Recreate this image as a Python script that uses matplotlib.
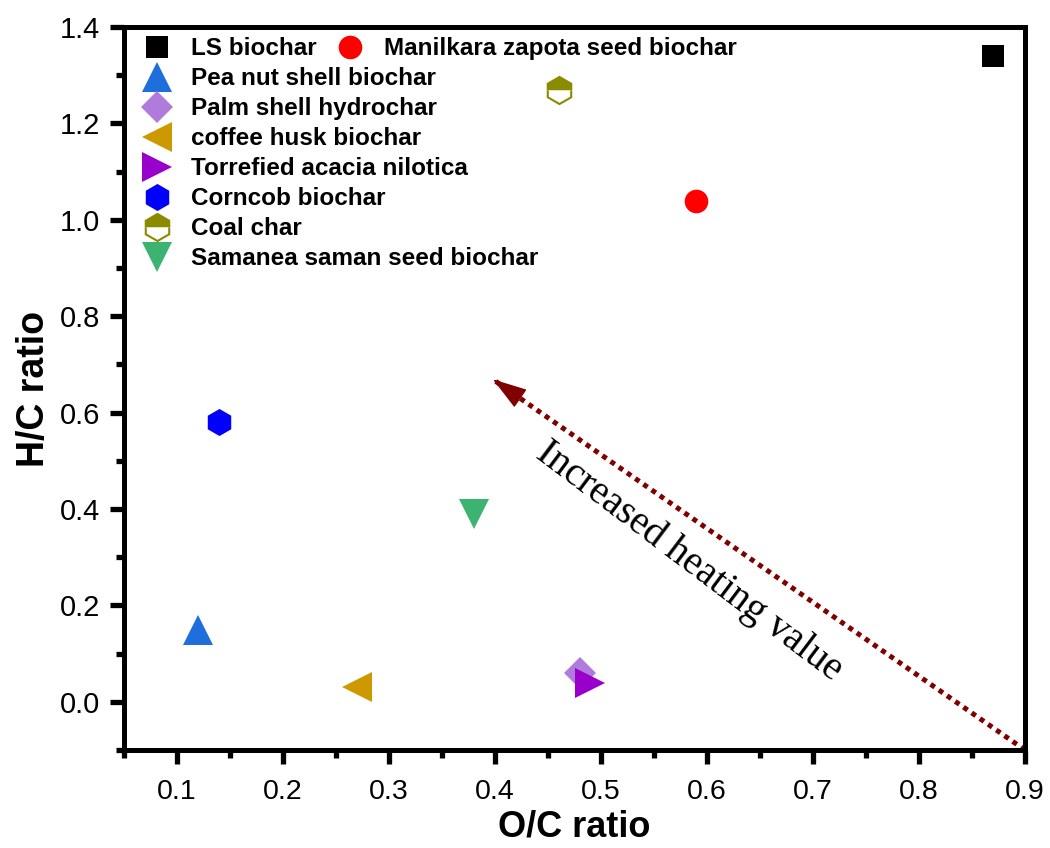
import matplotlib
matplotlib.use("Agg")
import matplotlib.pyplot as plt
from matplotlib.ticker import MultipleLocator

plt.rcParams["font.family"] = ["Liberation Sans", "DejaVu Sans"]

names = ["LS biochar", "Manilkara zapota seed biochar", "Pea nut shell biochar",
         "Palm shell hydrochar", "coffee husk biochar", "Torrefied acacia nilotica",
         "Corncob biochar", "Coal char", "Samanea saman seed biochar"]
oc = [0.87, 0.59, 0.12, 0.48, 0.27, 0.49, 0.14, 0.46, 0.38]
hc = [1.34, 1.04, 0.15, 0.06, 0.03, 0.04, 0.58, 1.27, 0.39]
markers = ["s", "o", "^", "D", "<", ">", "h", "h", "v"]
colors = ["#000000", "#FF0000", "#1E6FDC", "#B07CDC", "#CC9900", "#9900CC",
          "#0000FF", "#8B8B00", "#3CB371"]
sizes = [16, 17, 21, 16.5, 22, 22, 19.5, 19.5, 21]

xticks = [0.1, 0.2, 0.3, 0.4, 0.5, 0.6, 0.7, 0.8, 0.9]
yticks = [0.0, 0.2, 0.4, 0.6, 0.8, 1.0, 1.2, 1.4]

arrow_start = (0.9, -0.1)
arrow_end = (0.398, 0.669)

fig = plt.figure(figsize=(10.5, 8.48), dpi=100)
ax = fig.add_axes([124/1050, 1-750/848, (1025-124)/1050, (750-27)/848])

handles = []
for n, x, y, m, c, s in zip(names, oc, hc, markers, colors, sizes):
    if n == "Coal char":
        h, = ax.plot([x], [y], linestyle="none", marker=m, markersize=s,
                     markerfacecolor=c, markerfacecoloralt="white", fillstyle="top",
                     markeredgecolor=c, markeredgewidth=1.5, label=n, zorder=3)
    else:
        h, = ax.plot([x], [y], linestyle="none", marker=m, markersize=s,
                     color=c, markeredgewidth=0, label=n, zorder=3)
    handles.append(h)

ax.set_xlim(0.05, 0.9)
ax.set_ylim(-0.1, 1.4)
ax.xaxis.set_minor_locator(MultipleLocator(0.05))
ax.yaxis.set_minor_locator(MultipleLocator(0.1))
ax.set_xticks(xticks)
ax.set_xticklabels([f"{v:.1f}" for v in xticks], fontsize=20.5)
ax.set_yticks(yticks)
ax.set_yticklabels([f"{v:.1f}" for v in yticks], fontsize=21)
ax.tick_params(which="major", direction="out", length=10, width=3.8)
ax.tick_params(which="minor", direction="out", length=5.5, width=3.8)
ax.tick_params(axis="x", which="major", pad=11)
ax.tick_params(axis="y", which="major", pad=7)
for sp in ax.spines.values():
    sp.set_linewidth(3.6)

ax.set_xlabel("O/C ratio", fontweight="bold", fontsize=26, labelpad=3)
ax.set_ylabel("H/C ratio", fontweight="bold", fontsize=27, labelpad=6)

# dotted shaft
ax.plot([arrow_start[0], arrow_end[0]], [arrow_start[1], arrow_end[1]],
        color="#800000", lw=3.6, linestyle=(0, (1, 1)), dash_capstyle="butt",
        clip_on=False, zorder=2)
# solid head
ax.annotate("", xy=arrow_end, xytext=(17.8, -12.3), textcoords="offset points",
            arrowprops=dict(arrowstyle="-|>,head_length=2.2,head_width=0.7",
                            color="#800000", lw=1, shrinkA=0, shrinkB=0))

ax.text(0.583, 0.292, "Increased heating value", family="Liberation Serif",
        fontsize=28.5, rotation=-37, ha="center", va="center", rotation_mode="anchor")

leg_font = dict(family="Liberation Sans", weight="bold", size=17.5)
main = [h for h in handles if h.get_label() != "Manilkara zapota seed biochar"]
leg1 = ax.legend(handles=main, loc="upper left", bbox_to_anchor=(0.023, 0.986),
                 frameon=False, prop=leg_font, handletextpad=0.9, labelspacing=0.29,
                 borderaxespad=0, borderpad=0, handlelength=1.0)
ax.add_artist(leg1)
leg2 = ax.legend(handles=[handles[1]], loc="upper left", bbox_to_anchor=(0.2375, 0.986),
                 frameon=False, prop=leg_font, handletextpad=0.9,
                 borderaxespad=0, borderpad=0, handlelength=1.0)

fig.savefig("out.png", dpi=100)
